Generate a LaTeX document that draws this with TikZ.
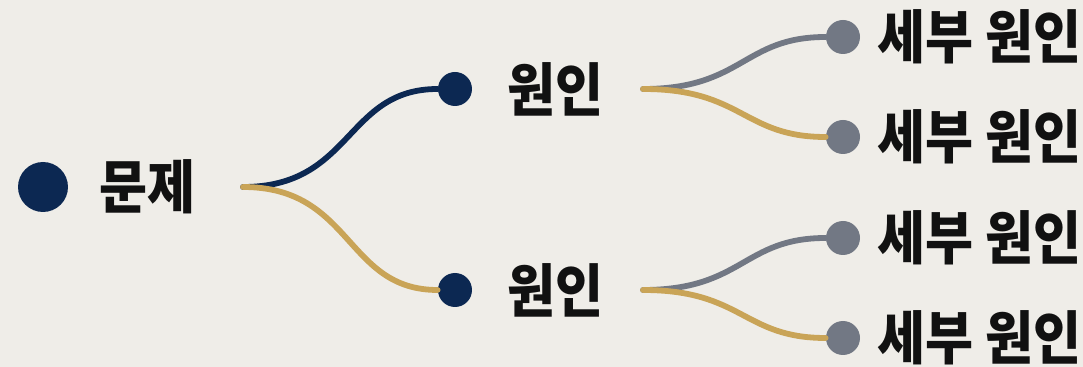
\documentclass[tikz,border=0pt]{standalone}
\usepackage{fontspec}
\usepackage{xcolor}
\newfontfamily\krfont[FakeStretch=0.9]{Noto Sans CJK KR}
\definecolor{paper}{RGB}{239,237,232}
\definecolor{navy}{RGB}{12,40,82}
\definecolor{gold}{RGB}{201,164,87}
\definecolor{slate}{RGB}{114,120,132}
\definecolor{ink}{RGB}{17,17,17}

\begin{document}
\begin{tikzpicture}[x=0.02cm,y=-0.02cm,line cap=round,
    dot/.style={circle,fill=#1,inner sep=0pt},
    lbl/.style={font=\krfont\bfseries\fontsize{33}{33}\selectfont,text=ink,anchor=west,inner sep=0pt},
    branch/.style={line width=3.3pt,draw=#1}]
  % background and page frame
  \fill[paper] (0,0) rectangle (1083,367);
  \useasboundingbox (0,0) rectangle (1083,367);
  % root
  \node[dot=navy,minimum size=1cm] (root) at (43,187) {};
  \node[lbl] (rootlbl) at (99,187) {문제};
  \coordinate (rootout) at (243,187);
  % causes
  \node[dot=navy,minimum size=0.68cm] (cause1) at (455,89) {};
  \node[dot=navy,minimum size=0.68cm] (cause2) at (455,290) {};
  \node[lbl] (cause1lbl) at (507,89) {원인};
  \node[lbl] (cause2lbl) at (507,290) {원인};
  \coordinate (cause1out) at (643,89);
  \coordinate (cause2out) at (643,290);
  % sub-causes
  \foreach \n/\y in {11/37,12/137,21/238,22/338}{
    \node[dot=slate,minimum size=0.68cm] (sub\n) at (843,\y) {};
    \node[lbl] (sub\n lbl) at (877,\y) {세부 원인};
  }
  % branches
  \draw[branch=navy] (rootout) .. controls +(110,0) and +(-110,0) .. (cause1);
  \draw[branch=gold] (rootout) .. controls +(110,0) and +(-110,0) .. (cause2);
  \draw[branch=slate] (cause1out) .. controls +(100,0) and +(-100,0) .. (sub11);
  \draw[branch=gold] (cause1out) .. controls +(100,0) and +(-100,0) .. (sub12);
  \draw[branch=slate] (cause2out) .. controls +(100,0) and +(-100,0) .. (sub21);
  \draw[branch=gold] (cause2out) .. controls +(100,0) and +(-100,0) .. (sub22);
\end{tikzpicture}
\end{document}
